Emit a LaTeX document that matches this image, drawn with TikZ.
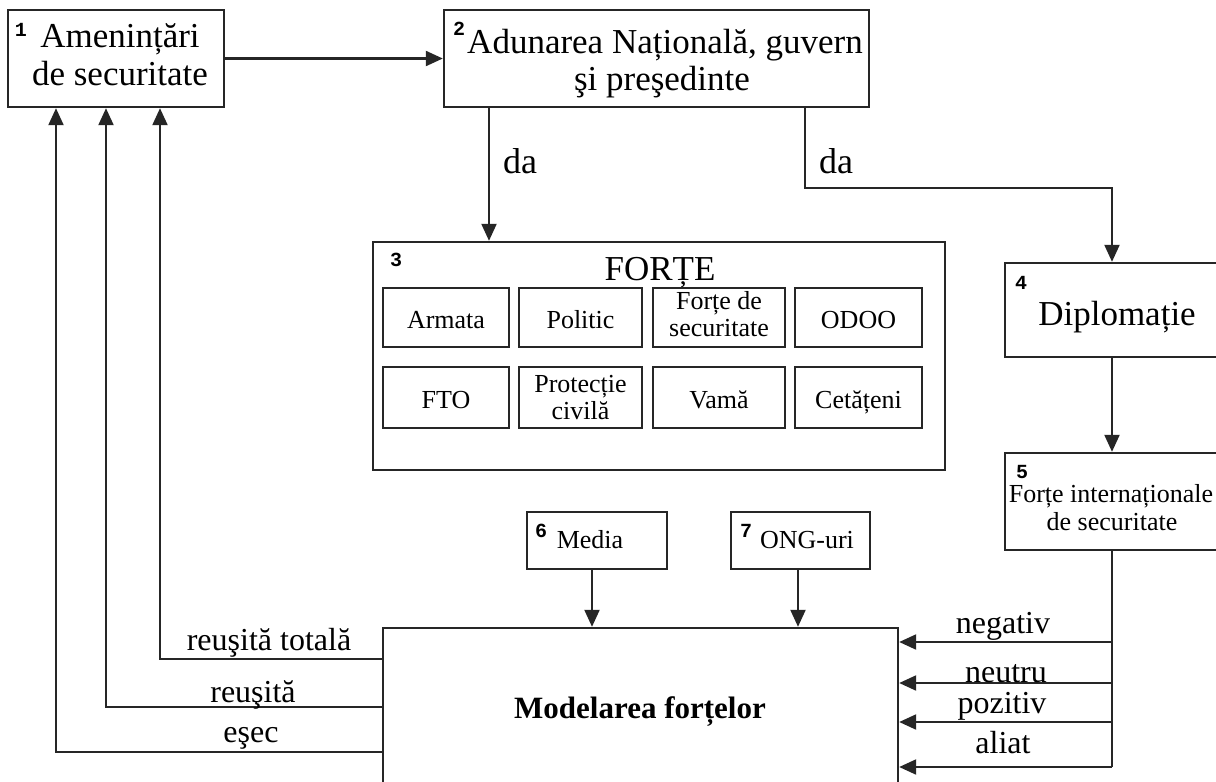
\documentclass[tikz,border=0pt]{standalone}
\usepackage{fontspec}
\setmainfont{Liberation Serif}
\newfontfamily\numfont{Liberation Mono}
\usetikzlibrary{arrows.meta}
\begin{document}
\begin{tikzpicture}[x=1pt,y=-1pt,
  frame/.style={draw=black!85, line width=2.4pt, inner sep=0pt},
  cell/.style={draw=black!85, line width=2.4pt, inner sep=0pt, align=center,
    font=\fontsize{26}{27}\selectfont},
  one/.style={text height=24pt, text depth=3pt},
  big/.style={anchor=base, inner sep=0pt, font=\fontsize{35}{38}\selectfont},
  mid/.style={anchor=base, inner sep=0pt, font=\fontsize{32}{34}\selectfont},
  sml/.style={anchor=base, inner sep=0pt, font=\fontsize{26}{27}\selectfont},
  num/.style={inner sep=0pt, font=\numfont\bfseries\fontsize{20}{20}\selectfont},
  wire/.style={draw=black!85, line width=2.2pt},
  arr/.style={wire, -{Triangle[length=17pt,width=15pt]}}]
\clip (0,0) rectangle (1216,782);
\fill[white] (0,0) rectangle (1216,782);

% main blocks
\node[frame, minimum width=216pt, minimum height=97pt] (b1) at (116,58.5) {};
\node[frame, minimum width=425pt, minimum height=97pt] (b2) at (656.5,58.5) {};
\node[frame, minimum width=572pt, minimum height=228pt] (b3) at (659,356) {};
\node[frame, minimum width=214pt, minimum height=94pt] (b4) at (1112,310) {};
\node[frame, minimum width=214pt, minimum height=97pt] (b5) at (1112,501.5) {};
\node[frame, minimum width=140pt, minimum height=57pt] (b6) at (597,540.5) {};
\node[frame, minimum width=139pt, minimum height=57pt] (b7) at (800.5,540.5) {};
\node[frame, minimum width=515pt, minimum height=180pt] (mf) at (640.5,718) {};

% block texts
\node[num] (n1) at (21,30) {1};
\node[big] (t1a) at (120,47) {Amenințări};
\node[big] (t1b) at (120,85) {de securitate};
\node[num] (n2) at (459,29) {2};
\node[big] (t2a) at (665,53) {Adunarea Națională, guvern};
\node[big] (t2b) at (662,90) {şi preşedinte};
\node[num] (n3) at (396,260) {3};
\node[big] (t3) at (660,280) {FORȚE};
\node[num] (n4) at (1021,283) {4};
\node[big] (t4) at (1117,325) {Diplomație};
\node[num] (n5) at (1022,472) {5};
\node[sml] (t5a) at (1111,502) {Forțe internaționale};
\node[sml] (t5b) at (1112,530) {de securitate};
\node[num] (n6) at (541,531) {6};
\node[sml] (t6) at (590,548) {Media};
\node[num] (n7) at (746,531) {7};
\node[sml] (t7) at (807,548) {ONG-uri};
\node[anchor=base, inner sep=0pt, font=\bfseries\fontsize{31}{33}\selectfont] (tm) at (640,718) {Modelarea forțelor};

% the forces grid
\node[cell, one, minimum width=126pt, minimum height=59pt] (f1) at (446,317.5) {Armata};
\node[cell, one, minimum width=123pt, minimum height=59pt] (f2) at (580.5,317.5) {Politic};
\node[cell, minimum width=132pt, minimum height=59pt] (f3) at (719,317.5) {};
\node[sml] (f3a) at (719,309) {Forțe de};
\node[sml] (f3b) at (719,336) {securitate};
\node[cell, one, minimum width=127pt, minimum height=59pt] (f4) at (858.5,317.5) {ODOO};
\node[cell, one, minimum width=126pt, minimum height=61pt] (f5) at (446,397.5) {FTO};
\node[cell, minimum width=123pt, minimum height=61pt] (f6) at (580.5,397.5) {};
\node[sml] (f6a) at (580.5,392) {Protecție};
\node[sml] (f6b) at (580.5,419) {civilă};
\node[cell, one, minimum width=132pt, minimum height=61pt] (f7) at (719,397.5) {Vamă};
\node[cell, one, minimum width=127pt, minimum height=61pt] (f8) at (858.5,397.5) {Cetățeni};

% routing points
\coordinate (xa) at (489,0);
\coordinate (xb) at (805,188);
\coordinate (xm) at (592,0);
\coordinate (xo) at (798,0);
\coordinate (k1) at (160,659);
\coordinate (k2) at (106,707);
\coordinate (k3) at (56,752);
\coordinate (q1) at (1112,642);
\coordinate (q2) at (1112,683);
\coordinate (q3) at (1112,722);
\coordinate (q4) at (1112,767);

% connectors
\draw[arr] (b1.east) -- (b2.west);
\draw[arr] (b2.south -| xa) -- (b3.north -| xa);
\draw[arr] (b2.south -| xb) -- (xb) -- (xb -| b4.north) -- (b4.north);
\draw[arr] (b4.south) -- (b5.north);
\draw[arr] (b6.south -| xm) -- (mf.north -| xm);
\draw[arr] (b7.south -| xo) -- (mf.north -| xo);
\draw[arr] (mf.west |- k1) -- (k1) -- (b1.south -| k1);
\draw[arr] (mf.west |- k2) -- (k2) -- (b1.south -| k2);
\draw[arr] (mf.west |- k3) -- (k3) -- (b1.south -| k3);
\draw[wire] (b5.south) -- (q4);
\draw[arr] (q1) -- (mf.east |- q1);
\draw[arr] (q2) -- (mf.east |- q2);
\draw[arr] (q3) -- (mf.east |- q3);
\draw[arr] (q4) -- (mf.east |- q4);

% connector labels
\node[anchor=base west, inner sep=0pt, font=\fontsize{36}{38}\selectfont] (da1) at (503,173) {da};
\node[anchor=base west, inner sep=0pt, font=\fontsize{36}{38}\selectfont] (da2) at (819,173) {da};
\node[mid] (l1) at (269,650) {reuşită totală};
\node[mid] (l2) at (253,702) {reuşită};
\node[mid] (l3) at (251,742) {eşec};
\node[mid] (r1) at (1003,633) {negativ};
\node[mid] (r2) at (1006,682) {neutru};
\node[mid] (r3) at (1002,713) {pozitiv};
\node[mid] (r4) at (1003,753) {aliat};
\end{tikzpicture}
\end{document}
